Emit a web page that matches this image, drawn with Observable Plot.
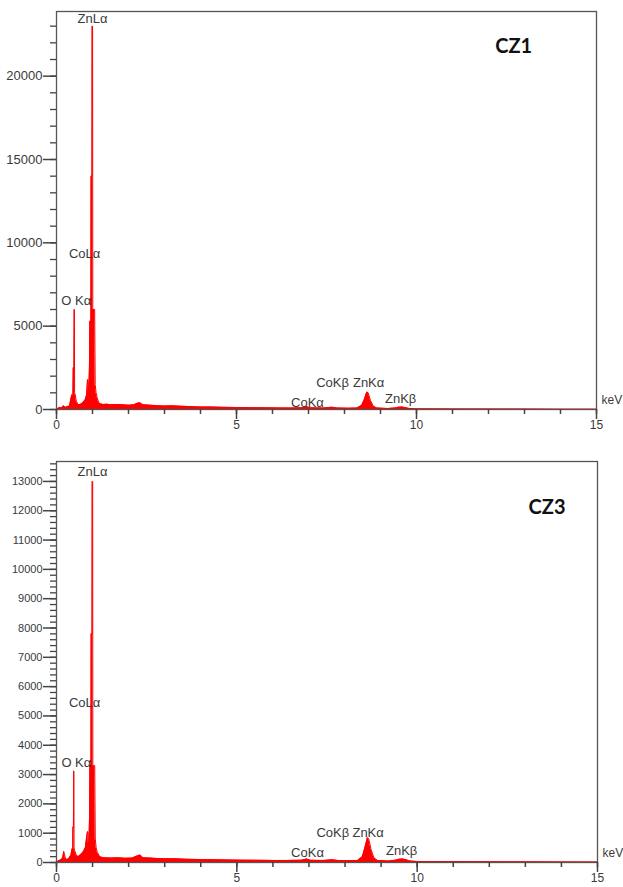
<!DOCTYPE html>
<html>
<head>
<meta charset="utf-8">
<script src="https://cdn.jsdelivr.net/npm/d3@7"></script>
<script src="https://cdn.jsdelivr.net/npm/@observablehq/plot@0.6"></script>
<style>
  body { margin: 0; background: #fff; }
  #chart svg { display: block; }
</style>
</head>
<body>
<div id="chart"></div>
<script>
// ---- Data (energy keV, counts) ----
const cz1Spectrum = [
  [0,0],[0.04,60],[0.08,120],[0.12,100],[0.16,140],[0.2,220],[0.23,160],[0.27,120],[0.3,200],[0.34,160],
  [0.37,300],[0.4,650],[0.43,900],[0.455,700],[0.465,2500],[0.485,2500],[0.49,6000],[0.497,6000],[0.503,1000],
  [0.52,900],[0.55,500],[0.6,280],[0.65,300],[0.7,350],[0.75,450],[0.8,600],[0.84,900],[0.86,1800],[0.875,1700],
  [0.885,1100],[0.9,1300],[0.915,2600],[0.925,5300],[0.955,5300],[0.96,14000],[0.985,14000],[0.99,23000],
  [1.003,23000],[1.008,6000],[1.06,6000],[1.075,1500],[1.1,1000],[1.13,700],[1.16,500],[1.2,350],[1.3,300],
  [1.4,320],[1.5,280],[1.6,300],[1.8,290],[2.0,260],[2.15,280],[2.25,380],[2.32,400],[2.4,280],[2.6,260],
  [2.8,230],[3.0,210],[3.2,220],[3.5,190],[3.8,170],[4.0,150],[4.3,150],[4.6,130],[5.0,120],[5.4,110],
  [5.8,100],[6.2,95],[6.5,90],[6.8,110],[6.95,160],[7.05,100],[7.4,90],[7.65,140],[7.8,90],[8.1,80],
  [8.35,90],[8.48,250],[8.55,600],[8.62,1050],[8.66,1000],[8.72,550],[8.8,200],[8.9,90],[9.2,60],[9.4,90],
  [9.5,140],[9.6,150],[9.7,110],[9.8,60],[10,40],[11,35],[12,30],[13,25],[14,22],[15,20]
];
const cz3Spectrum = [
  [0,0],[0.05,60],[0.1,80],[0.15,120],[0.18,200],[0.2,380],[0.22,300],[0.25,120],[0.3,100],[0.35,150],
  [0.4,250],[0.43,450],[0.45,500],[0.455,1215],[0.47,1215],[0.475,3120],[0.482,3120],[0.487,500],[0.5,420],
  [0.55,250],[0.6,200],[0.65,250],[0.7,300],[0.75,380],[0.8,500],[0.84,900],[0.86,1060],[0.875,1000],
  [0.885,650],[0.9,700],[0.915,1500],[0.925,3300],[0.955,3300],[0.96,7800],[0.985,7800],[0.99,13000],
  [1.003,13000],[1.008,3300],[1.06,3300],[1.075,800],[1.1,500],[1.13,350],[1.2,200],[1.3,160],[1.5,150],
  [1.7,160],[1.9,145],[2.1,150],[2.25,230],[2.32,260],[2.4,160],[2.6,150],[2.8,135],[3.0,130],[3.3,125],
  [3.6,110],[4.0,100],[4.4,95],[4.8,85],[5.2,80],[5.6,75],[6.0,70],[6.4,70],[6.8,80],[6.93,120],[7.05,75],
  [7.4,70],[7.65,95],[7.8,70],[8.1,65],[8.35,70],[8.48,200],[8.55,500],[8.62,850],[8.66,800],[8.72,450],
  [8.8,160],[8.9,70],[9.2,50],[9.4,80],[9.5,115],[9.6,120],[9.7,90],[9.8,50],[10,35],[11,30],[12,25],
  [13,22],[14,20],[15,18]
];

// Peak annotations (label, energy keV, counts position)
const cz1Labels = [
  ["ZnLα", 1.0, 23460], ["CoLα", 0.78, 9360], ["O Kα", 0.55, 6540],
  ["CoKβ", 7.67, 1620], ["ZnKα", 8.67, 1620], ["CoKα", 6.97, 420], ["ZnKβ", 9.56, 660]
];
const cz3Labels = [
  ["ZnLα", 1.0, 13340], ["CoLα", 0.78, 5440], ["O Kα", 0.55, 3400],
  ["CoKβ", 7.66, 1010], ["ZnKα", 8.64, 1010], ["CoKα", 6.96, 330], ["ZnKβ", 9.57, 400]
];

const xMajorTicks = [0, 5, 10, 15];
const xMinorTicks = d3.range(0, 16, 1);
const cz1YMajor = [0, 5000, 10000, 15000, 20000];
const cz1YMinor = d3.range(0, 24000, 1000);
const cz3YMajor = d3.range(0, 14000, 1000);
const cz3YMinor = d3.range(0, 13700, 200);

const font = "Liberation Sans, Arial, sans-serif";
const red = "#ff0000";
const ink = "#3a3a3a";
const axisInk = "#444";

function panel({spectrum, labels, yMax, yMajor, yMinor, title, titleX, titleY, height, marginTop, marginBottom, marginRight, yFont}) {
  const rows = spectrum.map(([e, c]) => ({e, c}));
  const ann = labels.map(([t, e, c]) => ({t, e, c}));
  return Plot.plot({
    width: 623,
    height,
    marginLeft: 56,
    marginRight,
    marginTop,
    marginBottom,
    style: {fontFamily: font, color: ink, background: "#fff"},
    x: {domain: [0, 15]},
    y: {domain: [0, yMax]},
    marks: [
      Plot.areaY(rows, {x: "e", y: "c", fill: red, curve: "linear"}),
      Plot.lineY(rows, {x: "e", y: "c", stroke: red, strokeWidth: 1, curve: "linear"}),
      Plot.frame({stroke: "#555", strokeWidth: 1.3}),
      // tick marks
      Plot.ruleX(xMinorTicks, {x: d => d, y1: 0, y2: 0, insetBottom: -5, stroke: axisInk, strokeWidth: 1.5}),
      Plot.ruleX(xMajorTicks, {x: d => d, y1: 0, y2: 0, insetBottom: -10, stroke: axisInk, strokeWidth: 1.5}),
      Plot.ruleY(yMinor, {y: d => d, x1: 0, x2: 0, insetLeft: -6, stroke: axisInk, strokeWidth: 1.3}),
      Plot.ruleY(yMajor, {y: d => d, x1: 0, x2: 0, insetLeft: -13, stroke: axisInk, strokeWidth: 1.5}),
      // tick labels
      Plot.axisX(xMajorTicks, {tickSize: 0, tickPadding: 11, fontSize: 12, fill: ink, label: null}),
      Plot.axisY(yMajor, {tickSize: 0, tickPadding: 14, fontSize: yFont, fill: ink, label: null, tickFormat: d => String(d)}),
      Plot.text(ann, {x: "e", y: "c", text: "t", fontSize: 13, fill: ink, textAnchor: "middle", lineAnchor: "middle"}),
      Plot.text(["keV"], {x: 15, y: 0, dx: 5, dy: -9, textAnchor: "start", fontSize: 12, fill: ink}),
      Plot.text([title], {x: titleX, y: titleY, fontSize: 20, fontWeight: "bold", fontFamily: "Lato, sans-serif", fill: "#111", lineAnchor: "middle"})
    ]
  });
}

const chart = document.getElementById("chart");
chart.appendChild(panel({
  spectrum: cz1Spectrum, labels: cz1Labels, yMax: 23880, yMajor: cz1YMajor, yMinor: cz1YMinor,
  title: "CZ1", titleX: 12.7, titleY: 21800, height: 440, marginTop: 11, marginBottom: 31, marginRight: 27, yFont: 13
}));
chart.appendChild(panel({
  spectrum: cz3Spectrum, labels: cz3Labels, yMax: 13680, yMajor: cz3YMajor, yMinor: cz3YMinor,
  title: "CZ3", titleX: 13.6, titleY: 12100, height: 447, marginTop: 21, marginBottom: 25, marginRight: 26, yFont: 11
}));
</script>
</body>
</html>
